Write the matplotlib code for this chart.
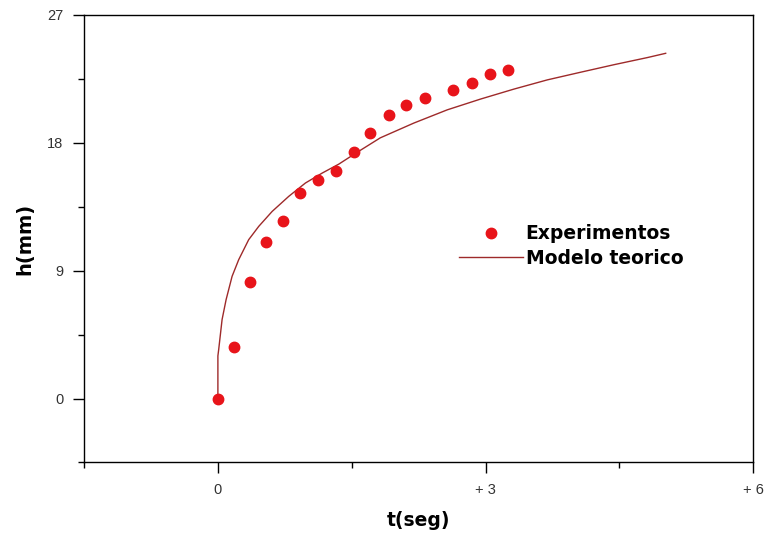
import matplotlib.pyplot as plt
from matplotlib.ticker import MultipleLocator

plt.rcParams['font.family'] = ['Liberation Sans', 'DejaVu Sans']

# experimental points
t_exp = [0.0, 0.18, 0.36, 0.54, 0.73, 0.92, 1.12, 1.32, 1.52, 1.71, 1.92,
         2.11, 2.32, 2.64, 2.85, 3.05, 3.25]
h_exp = [0.0, 3.63, 8.23, 11.0, 12.52, 14.46, 15.35, 16.03, 17.32, 18.68,
         19.97, 20.63, 21.15, 21.73, 22.2, 22.85, 23.14]

# theoretical model curve
t_mod = [0.0, 0.0, 0.009, 0.047, 0.092, 0.159, 0.233, 0.345, 0.458, 0.608,
         0.794, 0.981, 1.169, 1.355, 1.54, 1.82, 2.196, 2.57, 2.944, 3.317,
         3.692, 4.066, 4.44, 4.813, 5.018]
h_mod = [0.0, 3.0, 3.45, 5.56, 6.96, 8.60, 9.77, 11.18, 12.12, 13.17,
         14.23, 15.17, 15.87, 16.5, 17.25, 18.35, 19.39, 20.32, 21.08, 21.78,
         22.43, 22.97, 23.5, 24.0, 24.3]

x_ticks = [0, 3, 6]
x_labels = ['0', '+ 3', '+ 6']
y_ticks = [0, 9, 18, 27]

fig = plt.figure(figsize=(7.64, 5.34), dpi=100)
ax = fig.add_axes([0.110, 0.134, 0.876, 0.838])

ax.plot(t_exp, h_exp, 'o', color='#e8141a', markersize=7.5, label='Experimentos',
        zorder=3)
ax.plot(t_mod, h_mod, '-', color='#9e2a2a', linewidth=1.0, label='Modelo teorico')

ax.set_xlim(-1.5, 6)
ax.set_ylim(-4.5, 27)
ax.set_xticks(x_ticks)
ax.set_xticklabels(x_labels)
ax.set_yticks(y_ticks)
ax.xaxis.set_minor_locator(MultipleLocator(1.5))
ax.yaxis.set_minor_locator(MultipleLocator(4.5))
ax.tick_params(which='major', direction='out', length=8, width=1,
               labelsize=10.5, labelcolor='#333333', pad=7,
               top=False, right=False)
ax.tick_params(which='minor', direction='out', length=4, width=1,
               top=False, right=False)

for s in ax.spines.values():
    s.set_linewidth(1.0)

ax.set_xlabel('t(seg)', fontsize=13.5, fontweight='bold', labelpad=10,
              family='DejaVu Sans')
ax.set_ylabel('h(mm)', fontsize=14, fontweight='bold', labelpad=9,
              family='DejaVu Sans')

leg = ax.legend(loc='upper left', bbox_to_anchor=(0.535, 0.57), frameon=False,
                handlelength=3.4, handletextpad=0.15, labelspacing=0.3,
                prop={'size': 13.5, 'weight': 'bold', 'family': 'DejaVu Sans'})

fig.savefig('out.png', dpi=100)
